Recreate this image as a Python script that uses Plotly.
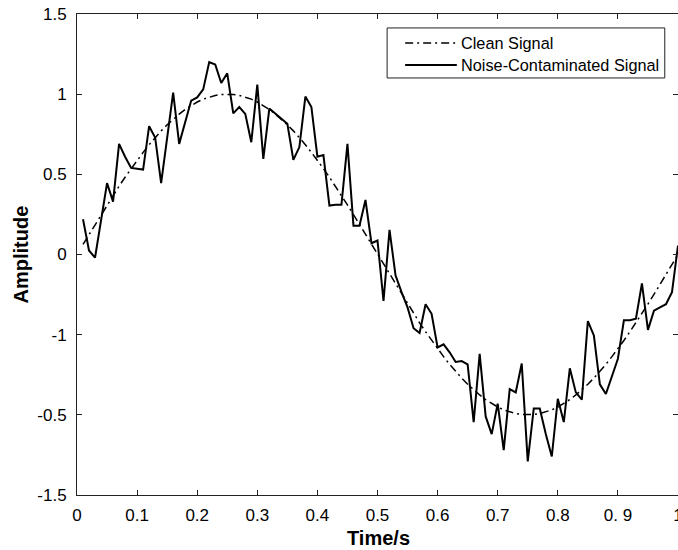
import plotly.graph_objects as go

# sampling grid (s)
time_s = [round(0.01 * k, 2) for k in range(1, 101)]

clean_signal = [
    0.063, 0.125, 0.187, 0.249, 0.309, 0.368, 0.426, 0.482, 0.536, 0.588,
    0.637, 0.685, 0.729, 0.771, 0.809, 0.844, 0.876, 0.905, 0.930, 0.951,
    0.969, 0.982, 0.992, 0.998, 1.000, 0.998, 0.992, 0.982, 0.969, 0.951,
    0.930, 0.905, 0.876, 0.844, 0.809, 0.771, 0.729, 0.685, 0.637, 0.588,
    0.536, 0.482, 0.426, 0.368, 0.309, 0.249, 0.187, 0.125, 0.063, 0.000,
    -0.063, -0.125, -0.187, -0.249, -0.309, -0.368, -0.426, -0.482, -0.536, -0.588,
    -0.637, -0.685, -0.729, -0.771, -0.809, -0.844, -0.876, -0.905, -0.930, -0.951,
    -0.969, -0.982, -0.992, -0.998, -1.000, -0.998, -0.992, -0.982, -0.969, -0.951,
    -0.930, -0.905, -0.876, -0.844, -0.809, -0.771, -0.729, -0.685, -0.637, -0.588,
    -0.536, -0.482, -0.426, -0.368, -0.309, -0.249, -0.187, -0.125, -0.063, 0.000,
]

noisy_signal = [
    0.22, 0.025, -0.02, 0.20, 0.445, 0.33, 0.69, 0.61, 0.54, 0.535,
    0.53, 0.80, 0.73, 0.445, 0.73, 1.01, 0.69, 0.82, 0.96, 0.98,
    1.03, 1.20, 1.185, 1.07, 1.13, 0.88, 0.92, 0.877, 0.70, 1.06,
    0.596, 0.91, 0.877, 0.845, 0.815, 0.59, 0.67, 0.985, 0.92, 0.61,
    0.62, 0.305, 0.31, 0.31, 0.69, 0.18, 0.18, 0.34, 0.07, 0.087,
    -0.29, 0.154, -0.13, -0.235, -0.33, -0.46, -0.49, -0.31, -0.37, -0.58,
    -0.56, -0.61, -0.67, -0.665, -0.685, -1.045, -0.62, -1.01, -1.12, -0.93,
    -1.22, -0.84, -0.86, -0.68, -1.29, -0.96, -0.96, -1.12, -1.26, -0.90,
    -1.045, -0.71, -0.86, -0.905, -0.415, -0.505, -0.81, -0.87, -0.765, -0.65,
    -0.41, -0.41, -0.40, -0.18, -0.47, -0.35, -0.33, -0.31, -0.235, 0.056,
]

x_tickvals = [0, 0.1, 0.2, 0.3, 0.4, 0.5, 0.6, 0.7, 0.8, 0.9, 1]
x_ticktext = ["0", "0.1", "0.2", "0.3", "0.4", "0.5", "0.6", "0.7", "0.8", "0. 9", "1"]
y_tickvals = [-1.5, -1, -0.5, 0, 0.5, 1, 1.5]
y_ticktext = ["-1.5", "-0.5", "-1", "0", "0.5", "1", "1.5"]

legend_labels = ["Clean Signal", "Noise-Contaminated Signal"]

FONT = "Liberation Sans, Arial, sans-serif"
CLEAN_DASH = "8px,4px,2px,4px"

fig = go.Figure()
fig.add_trace(go.Scatter(x=time_s, y=clean_signal, mode="lines",
                         line=dict(color="black", width=1.5, dash=CLEAN_DASH),
                         name=legend_labels[0], showlegend=False))
fig.add_trace(go.Scatter(x=time_s, y=noisy_signal, mode="lines",
                         line=dict(color="black", width=2),
                         name=legend_labels[1], showlegend=False))

axis_common = dict(showline=True, linecolor="#222", linewidth=1, mirror="ticks",
                   ticks="inside", ticklen=5, tickcolor="#222", showgrid=False,
                   zeroline=False, ticklabeloverflow="allow", automargin=False,
                   tickfont=dict(family=FONT, size=17, color="black"))

fig.update_xaxes(range=[0, 1], tickvals=x_tickvals, ticktext=x_ticktext,
                 ticklabelstandoff=5, **axis_common)
fig.update_yaxes(range=[-1.5, 1.5], tickvals=y_tickvals, ticktext=y_ticktext,
                 ticklabelstandoff=6, **axis_common)

# manual legend
lx0, lx1, ly0, ly1 = 0.516, 0.978, 0.867, 0.971
fig.add_shape(type="rect", xref="paper", yref="paper", x0=lx0, x1=lx1, y0=ly0, y1=ly1,
              line=dict(color="#222", width=1), fillcolor="white")
rows = [0.9397, 0.894]
dashes = [CLEAN_DASH, "solid"]
widths = [1.5, 2]
for lab, yy, d, w in zip(legend_labels, rows, dashes, widths):
    fig.add_shape(type="line", xref="paper", yref="paper", x0=0.546, x1=0.632, y0=yy, y1=yy,
                  line=dict(color="black", width=w, dash=d))
    fig.add_annotation(xref="paper", yref="paper", x=0.6356, y=yy, text=lab, showarrow=False,
                       xanchor="left", yanchor="middle",
                       font=dict(family=FONT, size=16.3, color="black"))

# axis titles
fig.add_annotation(xref="paper", yref="paper", x=(378 - 77) / 601, y=-(538 - 495) / 481,
                   text="<b>Time/s</b>", showarrow=False, xanchor="center", yanchor="middle",
                   font=dict(family=FONT, size=20, color="black"))
fig.add_annotation(xref="paper", yref="paper", x=-(77 - 20) / 601, y=0.5,
                   text="<b>Amplitude</b>", showarrow=False, textangle=-90,
                   xanchor="center", yanchor="middle",
                   font=dict(family=FONT, size=20, color="black"))

fig.update_layout(width=678, height=550, margin=dict(l=77, r=0, t=14, b=55, autoexpand=False),
                  paper_bgcolor="white", plot_bgcolor="white")

fig.write_html("out.html")
